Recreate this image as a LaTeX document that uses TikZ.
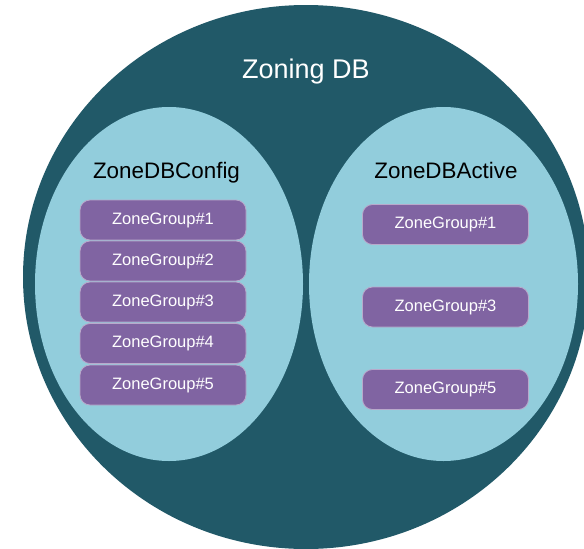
\documentclass[tikz,border=0pt]{standalone}
\usepackage{fontspec}
\setmainfont{Liberation Sans}
\definecolor{dbdark}{HTML}{215968}
\definecolor{dblight}{HTML}{92CDDC}
\definecolor{grpfill}{HTML}{8064A2}
\definecolor{grpline}{HTML}{B9A9CB}
\tikzset{
  zonegroup/.style={draw=grpline, line width=0.8pt, fill=grpfill, rounded corners=10pt,
    minimum width=166pt, minimum height=40pt, inner sep=0pt,
    text=white, font=\fontsize{16.5}{19}\selectfont},
  dbtitle/.style={anchor=base, text=white, font=\fontsize{27}{32}\selectfont},
  settitle/.style={anchor=base, text=black, font=\fontsize{22.4}{26}\selectfont},
}
\begin{document}
\begin{tikzpicture}[x=1pt, y=-1pt]
  \useasboundingbox (0,0) rectangle (584,549);
  \clip (0,0) rectangle (584,549);
  \fill[white] (0,0) rectangle (584,549);

  % outer database
  \fill[dbdark] (306,277) ellipse [x radius=283pt, y radius=272pt];
  \node[dbtitle] (zdb) at (306,78) {Zoning DB};

  % the two sets inside it
  \fill[dblight] (169,284) ellipse [x radius=134pt, y radius=177pt];
  \fill[dblight] (443.5,284) ellipse [x radius=134.5pt, y radius=177pt];
  \node[settitle] (cfg) at (166.5,178.5) {ZoneDBConfig};
  \node[settitle] (act) at (446,178.5) {ZoneDBActive};

  % configured zone groups
  \node[zonegroup] (c1) at (163,220)   {ZoneGroup\#1};
  \node[zonegroup] (c2) at (163,261)   {ZoneGroup\#2};
  \node[zonegroup] (c3) at (163,302)   {ZoneGroup\#3};
  \node[zonegroup] (c4) at (163,343.5) {ZoneGroup\#4};
  \node[zonegroup] (c5) at (163,385)   {ZoneGroup\#5};

  % active zone groups
  \node[zonegroup] (a1) at (445.5,224.5) {ZoneGroup\#1};
  \node[zonegroup] (a3) at (445.5,307)   {ZoneGroup\#3};
  \node[zonegroup] (a5) at (445.5,389.5) {ZoneGroup\#5};
\end{tikzpicture}
\end{document}
